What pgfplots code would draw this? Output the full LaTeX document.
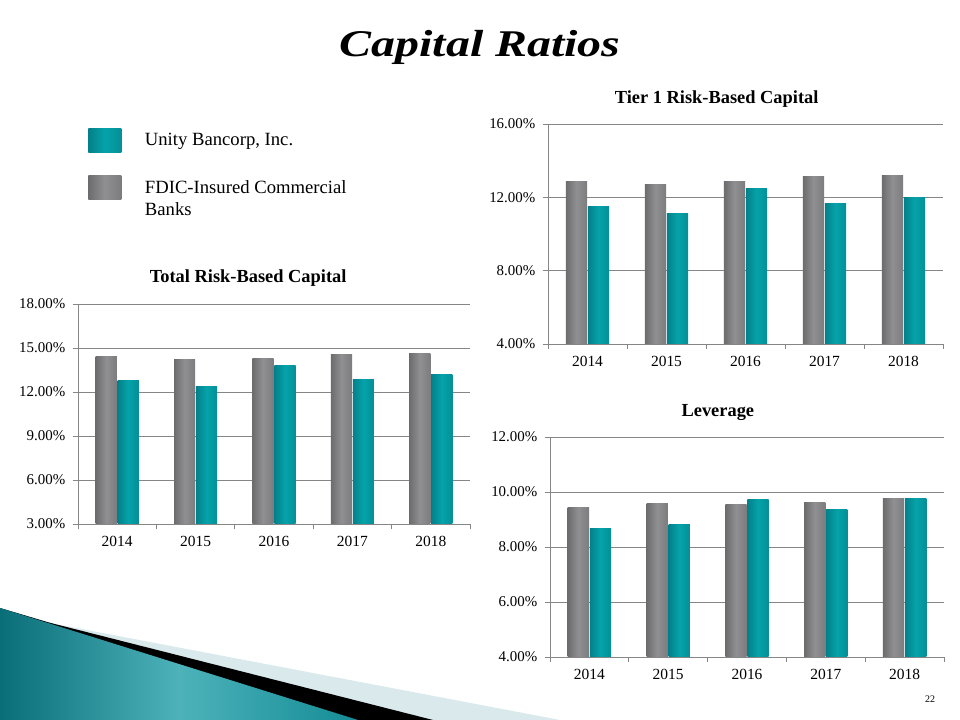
\documentclass[border=0pt]{standalone}
\usepackage{pgfplots}
\pgfplotsset{compat=1.18}
\usepackage{fontspec}
\setmainfont{Liberation Serif}
\definecolor{tealA}{HTML}{05A3AA}
\definecolor{tealD}{HTML}{03808A}
\definecolor{tealR}{HTML}{048F97}
\definecolor{grayA}{HTML}{909092}
\definecolor{grayD}{HTML}{6C6C6E}
\definecolor{grayR}{HTML}{7C7C7E}
\definecolor{gridc}{HTML}{868686}
\definecolor{decoL}{HTML}{D9E9EC}
\definecolor{decoT1}{HTML}{0A6E78}
\definecolor{decoT2}{HTML}{4DB2BA}
\definecolor{decoT3}{HTML}{148C96}

\pgfplotstableread{
x fdic unity
0 14.41 12.76
1 14.21 12.35
2 14.28 13.80
3 14.55 12.85
4 14.62 13.19
}\totaldata
\pgfplotstableread{
x fdic unity
0 12.88 11.50
1 12.72 11.12
2 12.88 12.50
3 13.15 11.66
4 13.21 11.97
}\tierdata
\pgfplotstableread{
x fdic unity
0 9.44 8.69
1 9.58 8.81
2 9.55 9.74
3 9.61 9.37
4 9.77 9.75
}\levdata

\pgfplotsset{
  cap/.style={
    scale only axis, height=165pt,
    xmin=-0.5, xmax=4.5,
    ybar,
    axis x line*=bottom, axis y line*=left,
    axis line style={gridc, line width=0.6pt},
    ymajorgrids, grid style={gridc, line width=0.6pt},
    xtick={0,1,2,3,4}, xticklabels={2014,2015,2016,2017,2018},
    minor xtick={-0.5,0.5,1.5,2.5,3.5,4.5},
    major x tick style={draw=none},
    minor x tick style={gridc, line width=0.6pt},
    y tick style={gridc, line width=0.6pt},
    tick align=outside,
    major tick length=4pt, minor tick length=4pt,
    tick label style={font=\fontsize{11.2}{13}\selectfont},
    xticklabel style={yshift=-2pt, font=\fontsize{11.6}{13}\selectfont},
    yticklabel style={xshift=-2pt},
    /pgf/number format/assume math mode=true,
    yticklabel={\pgfmathprintnumber[fixed,fixed zerofill,precision=2]{\tick}\%},
    title style={font=\bfseries\fontsize{13.8}{15}\selectfont, anchor=base},
    bar width=0.27,
  },
  fdicbar/.style={draw=none, bar shift=-0.14, left color=grayD, right color=grayR, middle color=grayA},
  unitybar/.style={draw=none, bar shift=0.14, left color=tealD, right color=tealR, middle color=tealA},
}
% one bar per plot, so that each bar gets its own shading
\newcommand\capbars[1]{%
  \pgfplotsinvokeforeach{0,1,2,3,4}{%
    \addplot[fdicbar, forget plot] table[x=x, y=fdic, restrict expr to domain={\coordindex}{##1:##1}] {#1};
    \addplot[unitybar, forget plot] table[x=x, y=unity, restrict expr to domain={\coordindex}{##1:##1}] {#1};
  }%
}

\begin{document}
\begin{tikzpicture}
\path[use as bounding box] (0,0) rectangle (720pt,540pt);
% decoration bottom-left
\fill[decoL] (0,0) -- (0,84pt) -- (37.5pt,72.75pt) -- (420pt,0) -- cycle;
\fill[black] (0,0) -- (0,84pt) -- (37.5pt,72.9pt) -- (324.75pt,0) -- cycle;
\shade[left color=decoT1, right color=decoT3, middle color=decoT2] (0,0) -- (0,84pt) -- (268.5pt,0) -- cycle;

% main title
\node[anchor=base] at (360pt,497.5pt) {\scalebox{1.27}[1]{\fontsize{28.3}{32}\selectfont\bfseries\itshape Capital Ratios}};

% Total Risk-Based Capital
\begin{axis}[cap, at={(58.5pt,147pt)}, anchor=south west, width=294pt,
  ymin=3, ymax=18, ytick={3,6,9,12,15,18},
  title={Total Risk-Based Capital}, title style={at={(0.434,1)}, yshift=9.75pt},
  legend style={at={(0.0255,1.80)}, anchor=north west, draw=none, fill=none, inner sep=0pt,
     column sep=15.75pt, row sep=17.5pt, font=\fontsize{14}{16.5}\selectfont,
     cells={anchor=base west}},
  legend image code/.code={\path[#1] (0pt,-4.7pt) rectangle (24.75pt,13.3pt);},
]
\capbars{\totaldata}
\addlegendimage{unitybar}
\addlegendentry{Unity Bancorp, Inc.}
\addlegendimage{fdicbar}
\addlegendentry{\begin{tabular}[t]{@{}l@{}}FDIC-Insured Commercial\\Banks\end{tabular}}
\end{axis}

% Tier 1
\begin{axis}[cap, at={(411pt,282pt)}, anchor=south west, width=296.25pt,
  ymin=4, ymax=16, ytick={4,8,12,16},
  title={Tier 1 Risk-Based Capital}, title style={at={(0.427,1)}, yshift=9pt},
]
\capbars{\tierdata}
\end{axis}

% Leverage
\begin{axis}[cap, at={(412.5pt,47.25pt)}, anchor=south west, width=295.5pt,
  ymin=4, ymax=12, ytick={4,6,8,10,12},
  title={Leverage}, title style={at={(0.426,1)}, yshift=9.75pt},
]
\capbars{\levdata}
\end{axis}

\node[anchor=base, font=\fontsize{7.5}{9}\selectfont] at (697.5pt,12.75pt) {22};
\end{tikzpicture}
\end{document}
